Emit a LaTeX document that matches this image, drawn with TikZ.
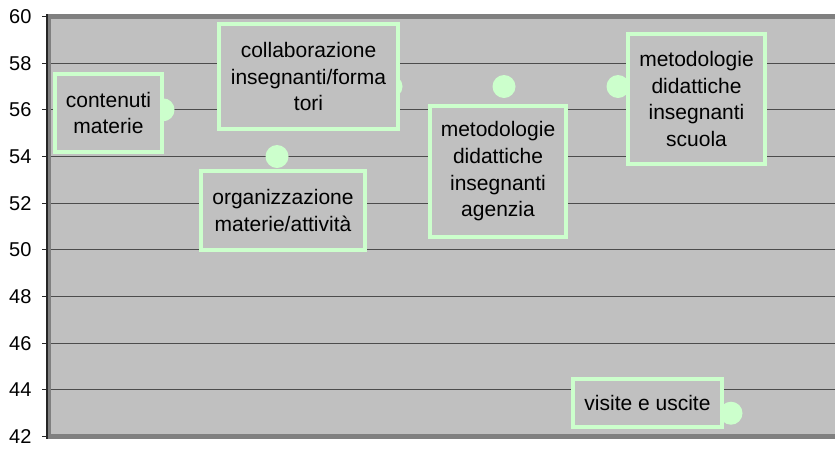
\documentclass[tikz,border=0pt]{standalone}
\usepackage{fontspec}
\setmainfont{Liberation Sans}
\usetikzlibrary{positioning}
\definecolor{plotgray}{HTML}{C0C0C0}
\definecolor{bandgray}{HTML}{808080}
\definecolor{mint}{HTML}{CCFFCC}
\begin{document}
\begin{tikzpicture}[x=1pt,y=-1pt,
  dot/.style={circle,fill=mint,inner sep=0pt,minimum size=23pt},
  tag/.style={rectangle,draw=mint,line width=4pt,fill=plotgray,inner sep=0pt,
    align=center,font=\fontsize{21}{26.7}\selectfont},
  gridline/.style={black!70,line width=1.2pt},
  ticklbl/.style={anchor=east,font=\fontsize{20}{24}\selectfont}]
  \useasboundingbox (0,0) rectangle (835,448);
  \fill[plotgray] (48,14) rectangle (835,439);   % plot area
  \fill[bandgray] (48,14) rectangle (835,19);    % top edge
  \fill[bandgray] (48,434) rectangle (835,439);  % bottom edge
  \fill[bandgray] (48,14) rectangle (51,439);    % left edge
  \fill[black!85] (46,14) rectangle (48,439);    % axis
  \foreach \v [evaluate=\v as \yy using 436.5-(\v-42)*70/3] in {44,46,...,58}{
    \draw[gridline] (51,\yy) -- (835,\yy);
  }
  \foreach \v [evaluate=\v as \yy using 436.5-(\v-42)*70/3] in {42,44,...,60}{
    \draw[black!85,line width=1pt] (42,\yy) -- (47,\yy);
    \node[ticklbl] (t\v) at (35,\yy) {\v};
  }
  % data points
  \node[dot] (p1) at (163,109.8) {};
  \node[dot] (p2) at (277,156.5) {};
  \node[dot] (p3) at (391,86.5) {};
  \node[dot] (p4) at (504,86.5) {};
  \node[dot] (p5) at (618,86.5) {};
  \node[dot] (p6) at (731,413.2) {};
  % labels
  \node[tag,minimum width=107pt,minimum height=78pt] (contenuti) at (108.5,113) {contenuti\\materie};
  \node[tag,minimum width=179pt,minimum height=105pt] (collab) at (308.5,76.5) {collaborazione\\insegnanti/forma\\tori};
  \node[tag,minimum width=164pt,minimum height=79pt] (organiz) at (283,210.5) {organizzazione\\materie/attività};
  \node[tag,minimum width=136pt,minimum height=131pt] (agenzia) at (498,171.5) {metodologie\\didattiche\\insegnanti\\agenzia};
  \node[tag,minimum width=137pt,minimum height=130pt] (scuola) at (696.5,99) {metodologie\\didattiche\\insegnanti\\scuola};
  \node[tag,minimum width=149pt,minimum height=48pt] (visite) at (647.5,403) {visite e uscite};
\end{tikzpicture}
\end{document}
